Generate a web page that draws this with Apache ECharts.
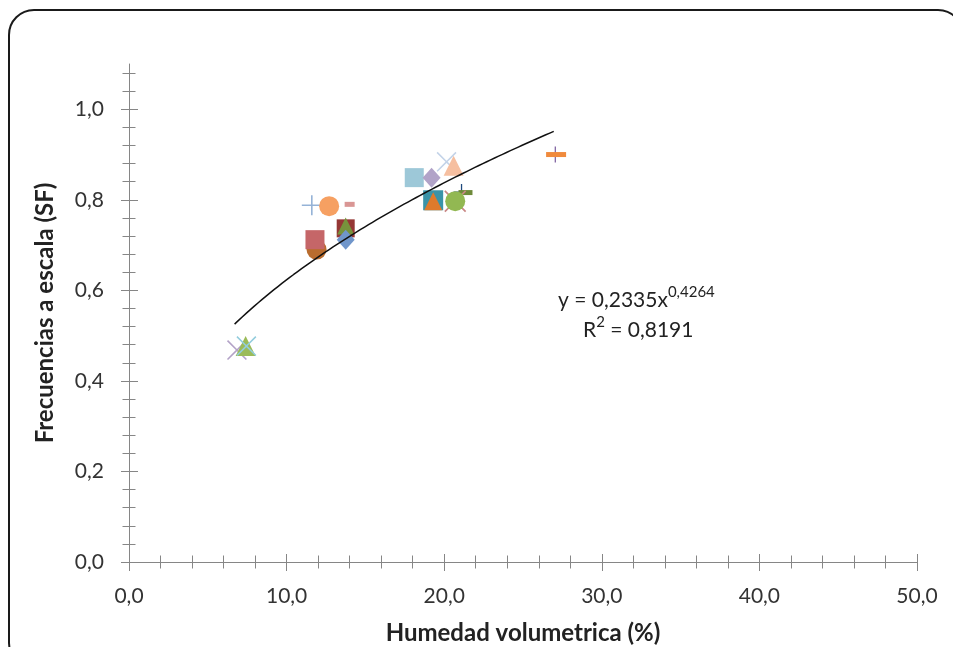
<!DOCTYPE html>
<html>
<head>
<meta charset="utf-8">
<script src="https://cdn.jsdelivr.net/npm/echarts@6/dist/echarts.min.js"></script>
<style>
  html, body { margin: 0; padding: 0; background: #fff; overflow: hidden; }
  #chart { position: absolute; left: 0; top: 0; width: 953px; height: 647px; }
  #frame {
    position: absolute; left: 8px; top: 9px; width: 956px; height: 660px;
    border: 2px solid #1a1a1a; border-radius: 26px; box-sizing: border-box;
    pointer-events: none;
  }
</style>
</head>
<body>
<div id="chart"></div>
<div id="frame"></div>
<script>
// tick labels
const xMajorTicks = [0, 10, 20, 30, 40, 50];
const yMajorTicks = [0, 0.2, 0.4, 0.6, 0.8, 1.0];

// trend line printed on the chart: y = a * x^b
const fitA = 0.2335;
const fitB = 0.4264;
const fitFrom = 6.7;
const fitTo = 27.0;

// measured points, one small array per marker style
const ptPlusBlue = [[11.6, 0.788]];
const ptCircleOrange = [[12.7, 0.786]];
const ptDashRose = [[14.0, 0.79]];
const ptCircleBrown = [[11.9, 0.69]];
const ptSquareRose = [[11.8, 0.712]];
const ptSquareDarkRed = [[13.75, 0.737]];
const ptTriangleGreen = [[13.75, 0.742]];
const ptDiamondBlue = [[13.75, 0.712]];
const ptSquareLightBlue = [[18.1, 0.849]];
const ptDiamondPurple = [[19.2, 0.849]];
const ptXLightBlue = [[20.15, 0.884]];
const ptTrianglePeach = [[20.6, 0.875]];
const ptSquareTeal = [[19.3, 0.799]];
const ptTriangleOrange = [[19.3, 0.797]];
const ptPlusNavy = [[21.1, 0.817]];
const ptDashOlive = [[21.35, 0.816]];
const ptXPink = [[20.7, 0.797]];
const ptCircleGreen = [[20.7, 0.797]];
const ptDashOrange = [[27.1, 0.9]];
const ptPlusPurple = [[27.05, 0.9]];
const ptXPurple = [[6.85, 0.468]];
const ptTriangleLime = [[7.4, 0.477]];
const ptXTeal = [[7.45, 0.477]];

const PLUS = 'path://M0,9.2L20,9.2L20,10.8L0,10.8ZM9.2,0L10.8,0L10.8,20L9.2,20Z';
const CROSS = 'path://M1.1,0L10,8.9L18.9,0L20,1.1L11.1,10L20,18.9L18.9,20L10,11.1L1.1,20L0,18.9L8.9,10L0,1.1Z';
const DASH = 'path://M0,0L20,0L20,5L0,5Z';

const markers = [
  { data: ptCircleBrown, symbol: 'circle', size: 20, color: '#B96C2E' },
  { data: ptSquareRose, symbol: 'rect', size: 19, color: '#C56668' },
  { data: ptPlusBlue, symbol: PLUS, size: 20, color: '#95B3D7' },
  { data: ptCircleOrange, symbol: 'circle', size: 20, color: '#F6A062' },
  { data: ptDashRose, symbol: DASH, size: [10, 5], color: '#D99694' },
  { data: ptSquareDarkRed, symbol: 'rect', size: 18, color: '#953735' },
  { data: ptTriangleGreen, symbol: 'triangle', size: 17, color: '#77933C' },
  { data: ptDiamondBlue, symbol: 'diamond', size: [18, 20], color: '#7096CB' },
  { data: ptSquareLightBlue, symbol: 'rect', size: 19, color: '#9DC8D8' },
  { data: ptDiamondPurple, symbol: 'diamond', size: [18, 20], color: '#B1A3C8' },
  { data: ptXLightBlue, symbol: CROSS, size: 20, color: '#C3D3E8' },
  { data: ptTrianglePeach, symbol: 'triangle', size: 20, color: '#F6BFA0' },
  { data: ptSquareTeal, symbol: 'rect', size: 20, color: '#3A93A8' },
  { data: ptTriangleOrange, symbol: 'triangle', size: 18, color: '#DE7A2C' },
  { data: ptPlusNavy, symbol: PLUS, size: 16, color: '#1F497D' },
  { data: ptDashOlive, symbol: DASH, size: [14, 5], color: '#6E8A3A' },
  { data: ptXPink, symbol: CROSS, size: 22, color: '#C98886' },
  { data: ptCircleGreen, symbol: 'circle', size: 20, color: '#92B852' },
  { data: ptPlusPurple, symbol: PLUS, size: 16, color: '#8064A2' },
  { data: ptDashOrange, symbol: DASH, size: [20, 5], color: '#F08A3C' },
  { data: ptXPurple, symbol: CROSS, size: 20, color: '#B3A2C7' },
  { data: ptTriangleLime, symbol: 'triangle', size: 20, color: '#9BBB59' },
  { data: ptXTeal, symbol: CROSS, size: 20, color: '#93CDDD' }
];

const xMinorTicks = [];
for (let v = 0; v <= 50; v += 2) xMinorTicks.push(v);
const yMinorTicks = [];
for (let i = 0; i <= 27; i++) yMinorTicks.push(+(i * 0.04).toFixed(2));

const fitLine = [];
for (let x = fitFrom; x <= fitTo + 1e-9; x += 0.25) fitLine.push([x, fitA * Math.pow(x, fitB)]);

const font = 'Lato, "Liberation Sans", sans-serif';
const axisGray = '#868686';
const fmt = v => v.toFixed(1).replace('.', ',');

function tickAxis(ticks, len, inside, extra) {
  return Object.assign({
    type: 'value',
    axisLine: { show: false },
    splitLine: { show: false },
    axisLabel: { show: false },
    axisTick: { show: true, inside: inside, length: len, customValues: ticks,
      lineStyle: { color: axisGray, width: 1 } }
  }, extra);
}

const xExtra = { position: 'bottom', min: 0, max: 50 };
const yExtra = { position: 'left', min: 0, max: 1.1 };

const eqRich = {
  a: { fontFamily: font, fontSize: 21, lineHeight: 30, fill: '#222' },
  s: { fontFamily: font, fontSize: 15, lineHeight: 14, verticalAlign: 'top', fill: '#222' }
};

const chart = echarts.init(document.getElementById('chart'));
chart.setOption({
  animation: false,
  grid: { left: 129, right: 36, top: 64, bottom: 85, outerBoundsMode: 'none', containLabel: false },
  xAxis: [
    {
      type: 'value', position: 'bottom', min: 0, max: 50, interval: 10,
      name: 'Humedad volumetrica (%)', nameLocation: 'middle', nameGap: 59,
      nameTextStyle: { fontFamily: font, fontSize: 24, fontWeight: 'bold', color: '#222' },
      axisLine: { show: true, lineStyle: { color: axisGray, width: 1 } },
      axisTick: { show: true, length: 9, customValues: xMajorTicks, lineStyle: { color: axisGray } },
      axisLabel: { customValues: xMajorTicks, formatter: fmt, margin: 24,
        fontFamily: font, fontSize: 21, color: '#333' },
      splitLine: { show: false }
    },
    tickAxis(xMajorTicks, 8, true, xExtra),
    tickAxis(xMinorTicks, 6.5, false, xExtra),
    tickAxis(xMinorTicks, 6.5, true, xExtra)
  ],
  yAxis: [
    {
      type: 'value', position: 'left', min: 0, max: 1.1, interval: 0.2,
      name: 'Frecuencias a escala (SF)', nameLocation: 'middle', nameGap: 72,
      nameTextStyle: { fontFamily: font, fontSize: 24, fontWeight: 'bold', color: '#222' },
      axisLine: { show: true, lineStyle: { color: axisGray, width: 1 } },
      axisTick: { show: true, length: 8, customValues: yMajorTicks, lineStyle: { color: axisGray } },
      axisLabel: { customValues: yMajorTicks, formatter: fmt, margin: 25,
        fontFamily: font, fontSize: 21, color: '#333' },
      splitLine: { show: false }
    },
    tickAxis(yMajorTicks, 9, true, yExtra),
    tickAxis(yMinorTicks, 6.5, false, yExtra),
    tickAxis(yMinorTicks, 6.5, true, yExtra)
  ],
  series: [
    {
      type: 'line', data: fitLine, showSymbol: false, smooth: false, z: 5,
      lineStyle: { color: '#111', width: 1.5 }
    }
  ].concat(markers.map(m => ({
    type: 'scatter', data: m.data, symbol: m.symbol, symbolSize: m.size,
    itemStyle: { color: m.color, opacity: 1 }, z: 3
  }))),
  graphic: [
    {
      type: 'text', left: 558, top: 285,
      style: { text: '{a|y = 0,2335x}{s|0,4264}', rich: eqRich }
    },
    {
      type: 'text', left: 583, top: 315,
      style: { text: '{a|R}{s|2}{a| = 0,8191}', rich: eqRich }
    }
  ]
});
</script>
</body>
</html>
